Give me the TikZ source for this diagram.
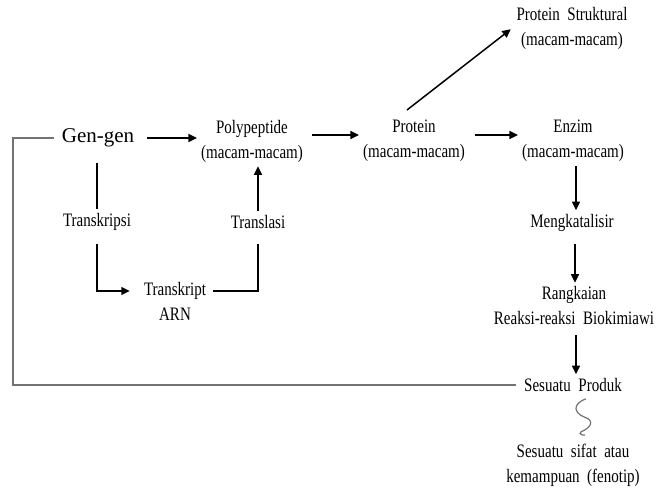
\documentclass[tikz,border=0pt]{standalone}
\usepackage{fontspec}
\setmainfont{Liberation Serif}[FakeStretch=0.79,WordSpace=2]
\newfontfamily\genfont{Liberation Serif}
\usetikzlibrary{arrows.meta,positioning}

\begin{document}
\begin{tikzpicture}[x=1pt,y=-1pt,>={Triangle[length=8.5pt,width=8pt]},
  lbl/.style={align=center,inner sep=4pt,font=\fontsize{19}{25}\selectfont},
  arr/.style={->,line width=1.5pt},
  ln/.style={line width=1.5pt},
  fb/.style={line width=1.2pt,draw=black!55}]
  \useasboundingbox (0,0) rectangle (656,489);
  \node[lbl,font=\genfont\fontsize{21}{25}\selectfont] (gen) at (98,138) {Gen-gen};
  \node[lbl] (poly) at (252,141) {Polypeptide\\(macam-macam)};
  \node[lbl] (prot) at (414,141) {Protein\\(macam-macam)};
  \node[lbl] (enz) at (573,141) {Enzim\\(macam-macam)};
  \node[lbl] (struk) at (572,28) {Protein Struktural\\(macam-macam)};
  \node[lbl] (kat) at (572,223) {Mengkatalisir};
  \node[lbl] (rang) at (574,306) {Rangkaian\\Reaksi-reaksi Biokimiawi};
  \node[lbl] (prod) at (573,385) {Sesuatu Produk};
  \node[lbl] (sifat) at (573,465) {Sesuatu sifat atau\\kemampuan (fenotip)};
  \node[lbl] (tsi) at (97,222) {Transkripsi};
  \node[lbl] (tla) at (258,222) {Translasi};
  \node[lbl] (trn) at (175,301) {Transkript\\ARN};
  \coordinate (back) at (13,138);

  % main chain
  \draw[arr,shorten <=9pt] (gen.east) -- (gen.east -| poly.west);
  \draw[arr,shorten <=5pt] ([yshift=6pt]poly.east) -- ([yshift=6pt]prot.west);
  \draw[arr,shorten <=6pt] ([yshift=6pt]prot.east) -- ([yshift=6pt]enz.west);
  \draw[arr,shorten >=2pt] ([xshift=-7pt,yshift=6pt]prot.north) -- (struk.west);
  \draw[arr] ([xshift=3pt]enz.south) -- ([xshift=3pt]enz.south |- kat.north);
  \draw[arr,shorten <=8pt] ([xshift=3pt]kat.south) -- ([xshift=3pt]kat.south |- rang.north);
  \draw[arr,shorten <=6pt] ([xshift=2pt]rang.south) -- ([xshift=2pt]rang.south |- prod.north);

  % transcription / translation loop
  \draw[ln,shorten <=12pt] (tsi.north |- gen.south) -- (tsi.north);
  \draw[arr,shorten <=9pt,shorten >=10pt] (tsi.south) |- ([yshift=10pt]trn.west);
  \draw[ln,shorten <=3pt,shorten >=11pt] ([yshift=10pt]trn.east) -| (tla.south);
  \draw[arr] (tla.north) -- (tla.north |- poly.south);

  % feedback line and wavy link
  \draw[fb,shorten <=4pt,shorten >=4pt] (prod.west) -| (back) -- (gen.west);
  \draw[fb] ([xshift=13pt,yshift=-3pt]prod.south)
    .. controls +(-14,5) and +(-10,-4) .. ++(-2,18)
    .. controls +(12,4) and +(9,-4) .. ++(-3,15)
    .. controls +(-3,2) and +(-2,1) .. ++(4,3);
\end{tikzpicture}
\end{document}
